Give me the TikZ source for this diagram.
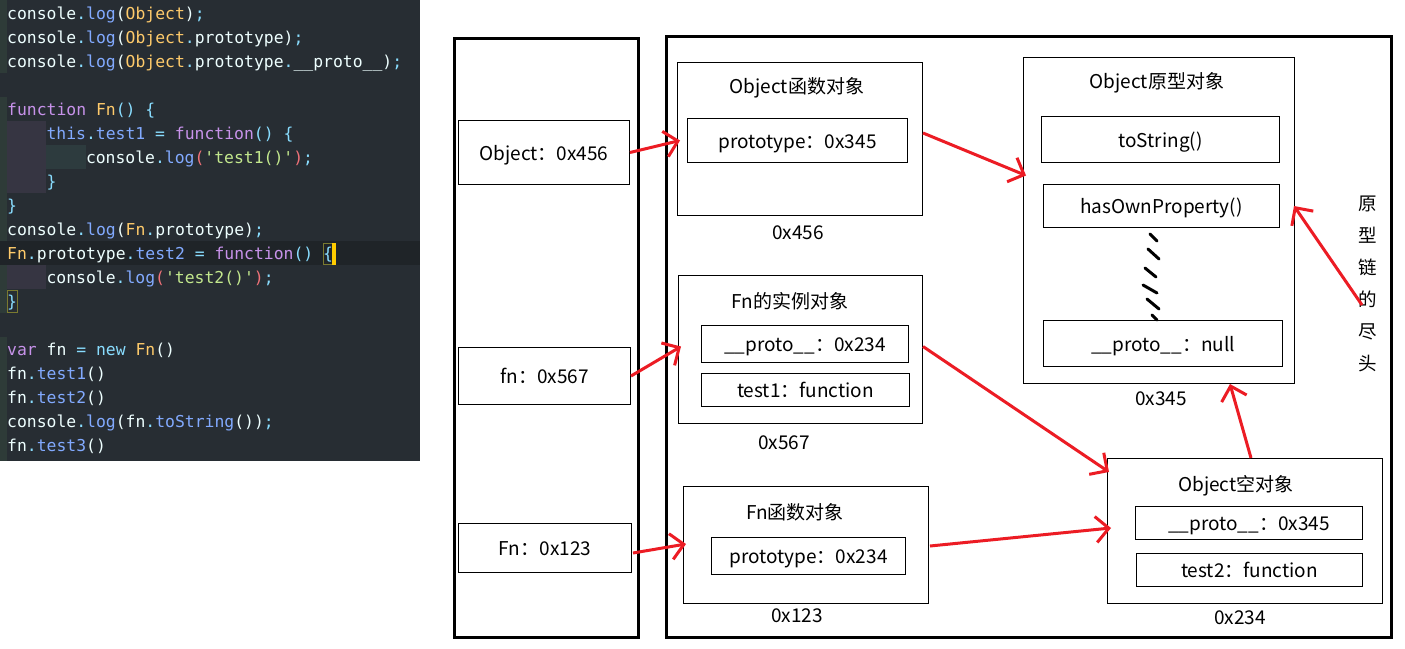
\documentclass[tikz,border=0pt]{standalone}
\usepackage{fontspec}
\setmainfont{Noto Sans CJK SC}
\newfontfamily\codefont{DejaVu Sans Mono}
\usetikzlibrary{arrows.meta,calc}
\definecolor{codebg}{HTML}{272D33}
\definecolor{gutter}{HTML}{2E3B38}
\definecolor{curline}{HTML}{1F2428}
\definecolor{indentA}{HTML}{363542}
\definecolor{indentB}{HTML}{2D3B3E}
\definecolor{bracketbox}{HTML}{7A7A30}
\definecolor{cursor}{HTML}{FFCC00}
\definecolor{cw}{HTML}{EEFFFF}
\definecolor{cblu}{HTML}{82AAFF}
\definecolor{cyel}{HTML}{FFCB6B}
\definecolor{cpur}{HTML}{C792EA}
\definecolor{ccya}{HTML}{89DDFF}
\definecolor{cgrn}{HTML}{C3E88D}
\definecolor{cred}{HTML}{F07178}
\definecolor{arrred}{HTML}{EC1C24}
\newcommand\kB[1]{\textcolor{cblu}{#1}}
\newcommand\kY[1]{\textcolor{cyel}{#1}}
\newcommand\kP[1]{\textcolor{cpur}{#1}}
\newcommand\kC[1]{\textcolor{ccya}{#1}}
\newcommand\kG[1]{\textcolor{cgrn}{#1}}
\newcommand\kR[1]{\textcolor{cred}{#1}}
\tikzset{
  codeline/.style={anchor=base west, inner sep=0pt, text=cw, font=\codefont\fontsize{16.4}{20}\selectfont},
  thickbox/.style={draw, line width=3.2pt, anchor=north west, inner sep=0pt},
  objbox/.style={draw, line width=1pt, anchor=north west, inner sep=0pt},
  ibox/.style={draw, line width=1pt, anchor=north west, inner sep=0pt, text height=19pt, text depth=3.5pt, font=\fontsize{19}{22}\selectfont},
  lbl/.style={inner sep=0pt, text height=17pt, text depth=3.5pt, font=\fontsize{19}{22}\selectfont},
  ref/.style={draw=arrred, line width=3pt, -{Straight Barb[length=13pt,width=26pt]}},
  squiggle/.style={line width=3pt, line cap=round}
}
\begin{document}
\begin{tikzpicture}[x=1pt,y=-1pt]
\useasboundingbox[fill=white] (0,0) rectangle (1405,648);
% ---- code panel ----
\fill[codebg] (0,0) rectangle (420,461);
\fill[gutter] (0,0) rectangle (7,73);
\fill[gutter] (0,97) rectangle (7,313);
\fill[gutter] (0,337) rectangle (7,461);
\fill[curline] (0,241) rectangle (420,265);
\fill[indentA] (7,121) rectangle (46,193);
\fill[indentB] (46,145) rectangle (86,169);
\fill[indentA] (7,265) rectangle (46,289);
\draw[bracketbox, line width=1pt] (323.5,243.5) rectangle (333,264);
\draw[bracketbox, line width=1pt] (7.5,290) rectangle (17,312);
\fill[cursor] (332,243) rectangle (336,265);
\node[codeline] (c0) at (7,19) {console\kC{.}\kB{log}(\kY{Object})\kC{;}};
\node[codeline] (c1) at (7,43) {console\kC{.}\kB{log}(\kY{Object}\kC{.}prototype)\kC{;}};
\node[codeline] (c2) at (7,67) {console\kC{.}\kB{log}(\kY{Object}\kC{.}prototype\kC{.}\_\_proto\_\_)\kC{;}};
\node[codeline] (c4) at (7,115) {\kP{function} \kY{Fn}\kC{()} \kC{\{}};
\node[codeline] (c5) at (46.4,139) {\kB{this}\kC{.}\kB{test1} \kC{=} \kP{function}\kC{()} \kC{\{}};
\node[codeline] (c6) at (85.8,163) {console\kC{.}\kB{log}\kR{(}\kG{'test1()'}\kR{)}\kC{;}};
\node[codeline] (c7) at (46.4,187) {\kC{\}}};
\node[codeline] (c8) at (7,211) {\kC{\}}};
\node[codeline] (c9) at (7,235) {console\kC{.}\kB{log}(\kY{Fn}\kC{.}prototype)\kC{;}};
\node[codeline] (c10) at (7,259) {\kY{Fn}\kC{.}prototype\kC{.}\kB{test2} \kC{=} \kP{function}\kC{()} \kC{\{}};
\node[codeline] (c11) at (46.4,283) {console\kC{.}\kB{log}\kR{(}\kG{'test2()'}\kR{)}\kC{;}};
\node[codeline] (c12) at (7,307) {\kC{\}}};
\node[codeline] (c14) at (7,355) {\kP{var} fn \kC{=} \kC{new} \kY{Fn}()};
\node[codeline] (c15) at (7,379) {fn\kC{.}\kB{test1}()};
\node[codeline] (c16) at (7,403) {fn\kC{.}\kB{test2}()};
\node[codeline] (c17) at (7,427) {console\kC{.}\kB{log}(fn\kC{.}\kB{toString}())\kC{;}};
\node[codeline] (c18) at (7,451) {fn\kC{.}\kB{test3}()};
% ---- stack and heap ----
\node[thickbox, minimum width=184, minimum height=599] (stack) at (453,37) {};
\node[thickbox, minimum width=725, minimum height=601] (heap) at (665,35) {};
\node[ibox, minimum width=171, minimum height=64] (obj) at (458,120) {Object：0x456};
\node[ibox, minimum width=172, minimum height=57] (fnv) at (458,347) {fn：0x567};
\node[ibox, minimum width=173, minimum height=49] (fnc) at (458,523) {Fn：0x123};
% Object function object
\node[objbox, minimum width=245, minimum height=153] (ofo) at (677,62) {};
\node[lbl] (ofot) at (797,87) {Object函数对象};
\node[ibox, minimum width=220, minimum height=44] (ofp) at (687,118) {prototype：0x345};
\node[lbl] (ofol) at (798,233) {0x456};
% Fn instance
\node[objbox, minimum width=244, minimum height=148] (fninst) at (678,275) {};
\node[lbl] (fninstt) at (790,302) {Fn的实例对象};
\node[ibox, minimum width=207, minimum height=37] (fnp) at (701,325) {\_\_proto\_\_：0x234};
\node[ibox, minimum width=208, minimum height=33] (fnt) at (701,373) {test1：function};
\node[lbl] (fninstl) at (784,443) {0x567};
% Fn function object
\node[objbox, minimum width=245, minimum height=117] (fnf) at (683,486) {};
\node[lbl] (fnft) at (795,513) {Fn函数对象};
\node[ibox, minimum width=194, minimum height=37] (fnfp) at (711,537) {prototype：0x234};
\node[lbl] (fnfl) at (797,616) {0x123};
% Object prototype object
\node[objbox, minimum width=271, minimum height=326] (opo) at (1023,57) {};
\node[lbl] (opot) at (1157,82) {Object原型对象};
\node[ibox, minimum width=238, minimum height=46] (tos) at (1041,116) {toString()};
\node[ibox, minimum width=236, minimum height=43] (hop) at (1043,184) {hasOwnProperty()};
\node[ibox, minimum width=239, minimum height=46] (pnull) at (1043,320) {\_\_proto\_\_：null};
\node[lbl] (opol) at (1161,399) {0x345};
% Object empty object
\node[objbox, minimum width=275, minimum height=145] (oeo) at (1107,458) {};
\node[lbl] (oeot) at (1236,485) {Object空对象};
\node[ibox, minimum width=227, minimum height=33] (oep) at (1135,506) {\_\_proto\_\_：0x345};
\node[ibox, minimum width=226, minimum height=33] (oet) at (1136,553) {test2：function};
\node[lbl] (oeol) at (1240,618) {0x234};
% chain end label
\node[inner sep=0pt, align=center, font=\fontsize{18.5}{32}\selectfont] (chain) at (1368,284) {原\\型\\链\\的\\尽\\头};
\coordinate (chainstart) at (1362,305);
% squiggle between hasOwnProperty and null
\draw[squiggle] (1150,234) -- (1157,241);
\draw[squiggle] (1148,249) -- (1159,259);
\draw[squiggle] (1145,268) -- (1156,277);
\draw[squiggle] (1143,285) -- (1157,293);
\draw[squiggle] (1147,299) -- (1159,309);
\draw[squiggle] (1152,315) -- (1157,320);
% ---- red reference arrows ----
\draw[ref] (obj.east) -- ($(ofo.west |- ofp.west)+(3,0)$);
\draw[ref] ($(ofo.east)+(0,-6)$) -- ($(opo.west)+(3,-45)$);
\draw[ref] (fnv.east) -- ($(fninst.west)+(3,-3)$);
\draw[ref] ($(fninst.east)+(0,-3)$) -- ($(oeo.north west)+(2,14)$);
\draw[ref] ($(fnc.east)+(1,5)$) -- ($(fnf.west)+(3,-1)$);
\draw[ref] ($(fnf.east)+(1,1)$) -- ($(oeo.west)+(4,-3)$);
\draw[ref] ($(oeo.north)+(6,0)$) -- ($(opo.south east)+(-65,0)$);
\draw[ref] (chainstart) -- ($(hop.east)+(14,0)$);
\end{tikzpicture}
\end{document}
